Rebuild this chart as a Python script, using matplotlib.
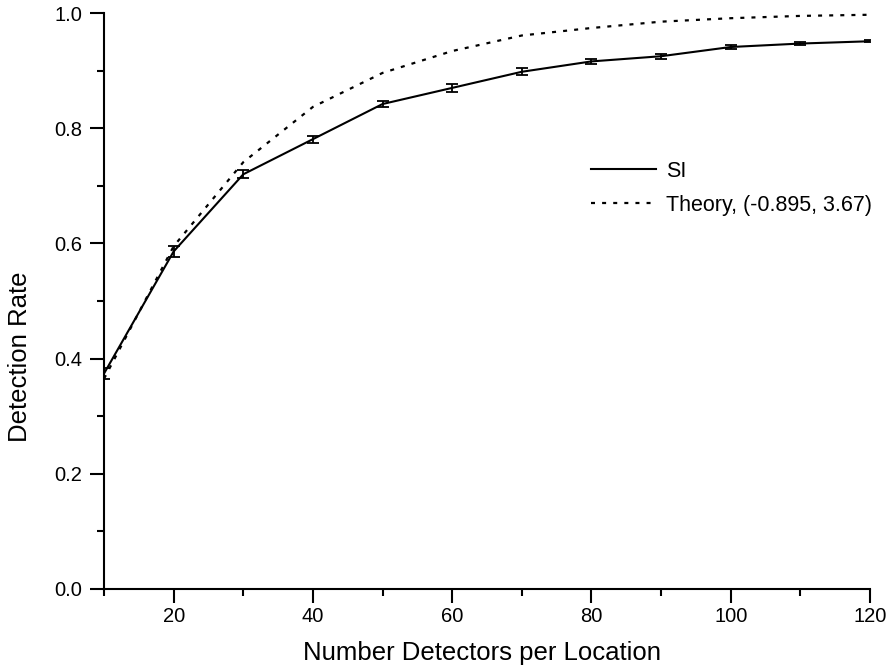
import numpy as np
import matplotlib.pyplot as plt
from matplotlib.ticker import MultipleLocator
from matplotlib.lines import Line2D

plt.rcParams['font.family'] = ['Liberation Sans', 'DejaVu Sans']

# detectors per location
detectors = [10, 20, 30, 40, 50, 60, 70, 80, 90, 100, 110, 120]
# measured detection rate (SI) and its error
si_rate = [0.374, 0.586, 0.720, 0.781, 0.842, 0.870, 0.898, 0.916, 0.925, 0.941, 0.947, 0.951]
si_err = [0.010, 0.009, 0.007, 0.006, 0.006, 0.007, 0.006, 0.004, 0.004, 0.003, 0.003, 0.002]
# theoretical curve
theory_rate = [0.365, 0.595, 0.741, 0.837, 0.896, 0.934, 0.961, 0.974, 0.985, 0.991, 0.995, 0.997]

theory_style = (0, (1.8, 3.2))

fig = plt.figure(figsize=(8.92, 6.68), dpi=100)
ax = fig.add_axes([0.1166, 0.1183, 0.8587, 0.8622])

ax.errorbar(detectors, si_rate, yerr=si_err, color='black', lw=1.5,
            capsize=4.5, capthick=1.3, elinewidth=1.3)
ax.plot(detectors, theory_rate, color='black', lw=1.6, linestyle=theory_style)

ax.set_xlim(10, 120)
ax.set_ylim(0, 1.0)
ax.xaxis.set_minor_locator(MultipleLocator(10))
ax.yaxis.set_major_locator(MultipleLocator(0.2))
ax.yaxis.set_minor_locator(MultipleLocator(0.1))
ax.set_xticks([20, 40, 60, 80, 100, 120])
ax.set_xticklabels(['20', '40', '60', '80', '100', '120'])
ax.yaxis.set_major_formatter(plt.FormatStrFormatter('%.1f'))

for s in ['top', 'right']:
    ax.spines[s].set_visible(False)
for s in ['left', 'bottom']:
    ax.spines[s].set_linewidth(1.5)
    ax.spines[s].set_clip_on(False)

ax.tick_params(which='major', direction='out', length=10, width=1.5, labelsize=14.5)
ax.tick_params(axis='y', which='major', pad=5.5)
ax.tick_params(axis='x', which='major', pad=3)
ax.tick_params(which='minor', direction='out', length=5, width=1.5)

ax.set_xlabel('Number Detectors per Location', fontsize=18.5)
ax.set_ylabel('Detection Rate', fontsize=18.5)
ax.xaxis.set_label_coords(0.494, -0.09)
ax.yaxis.set_label_coords(-0.094, 0.403)

# plain line handles, no error bar glyph in the key
handles = [Line2D([], [], color='black', lw=1.5),
           Line2D([], [], color='black', lw=1.6, linestyle=theory_style)]
ax.legend(handles, ['SI', 'Theory, (-0.895, 3.67)'], loc='center left',
          bbox_to_anchor=(0.625, 0.696), borderaxespad=0, frameon=False,
          fontsize=15.5, handlelength=3.0, handletextpad=0.45, labelspacing=0.6)

fig.savefig('out.png', dpi=100)
